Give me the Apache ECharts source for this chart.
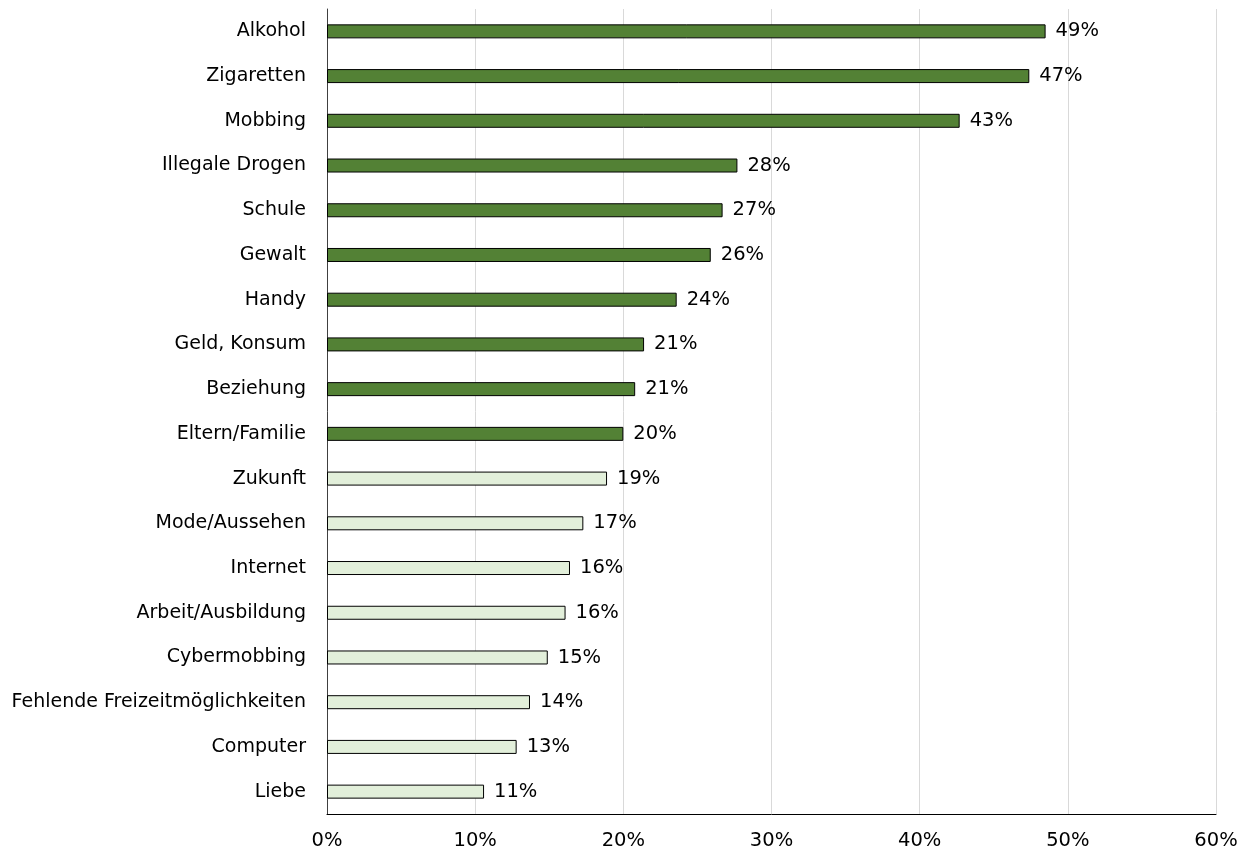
<!DOCTYPE html>
<html>
<head>
<meta charset="utf-8">
<title>Themen</title>
<script src="https://cdn.jsdelivr.net/npm/echarts@6/dist/echarts.min.js"></script>
<style>
  html, body { margin: 0; padding: 0; background: #fff; }
  #chart { width: 1250px; height: 855px; }
</style>
</head>
<body>
<div id="chart"></div>
<script>
// Kategorien von oben nach unten
const categories = [
  'Alkohol', 'Zigaretten', 'Mobbing', 'Illegale Drogen', 'Schule', 'Gewalt',
  'Handy', 'Geld, Konsum', 'Beziehung', 'Eltern/Familie', 'Zukunft',
  'Mode/Aussehen', 'Internet', 'Arbeit/Ausbildung', 'Cybermobbing',
  'Fehlende Freizeitmöglichkeiten', 'Computer', 'Liebe'
]
// Anteile in Prozent
const values = [
  48.5, 47.4, 42.7, 27.7, 26.7, 25.9,
  23.6, 21.4, 20.8, 20.0, 18.9,
  17.3, 16.4, 16.1, 14.9,
  13.7, 12.8, 10.6
]
// die ersten 10 Themen dunkel hervorgehoben
const topCount = 10
const xTicks = [0, 10, 20, 30, 40, 50, 60]

const darkGreen = '#538135'
const lightGreen = '#e2efda'
const fontFamily = 'DejaVu Sans, Verdana, sans-serif'
const fontSize = 19.5

const chart = echarts.init(document.getElementById('chart'))

chart.setOption({
  animation: false,
  grid: {
    left: 327,
    right: 34,
    top: 9,
    bottom: 41
  },
  xAxis: {
    type: 'value',
    min: xTicks[0],
    max: xTicks[xTicks.length - 1],
    interval: 10,
    axisLine: { show: true, lineStyle: { color: '#000', width: 1 } },
    axisTick: { show: false },
    axisLabel: {
      formatter: '{value}%',
      color: '#000',
      fontSize: fontSize,
      fontFamily: fontFamily,
      margin: 17
    },
    splitLine: { show: true, lineStyle: { color: '#d9d9d9', width: 1 } }
  },
  yAxis: {
    type: 'category',
    data: categories,
    inverse: true,
    axisLine: { show: true, lineStyle: { color: '#404040', width: 1 } },
    axisTick: { show: false },
    axisLabel: {
      color: '#000',
      fontSize: 19,
      fontFamily: fontFamily,
      margin: 21
    }
  },
  series: [
    {
      type: 'bar',
      barWidth: 14,
      data: values.map((v, i) => ({
        value: v,
        itemStyle: { color: i < topCount ? darkGreen : lightGreen }
      })),
      itemStyle: {
        borderColor: '#000',
        borderWidth: 1
      },
      label: {
        show: true,
        position: 'right',
        distance: 10,
        color: '#000',
        fontSize: fontSize,
        fontFamily: fontFamily,
        formatter: p => Math.round(p.value) + '%'
      }
    }
  ]
})
</script>
</body>
</html>
